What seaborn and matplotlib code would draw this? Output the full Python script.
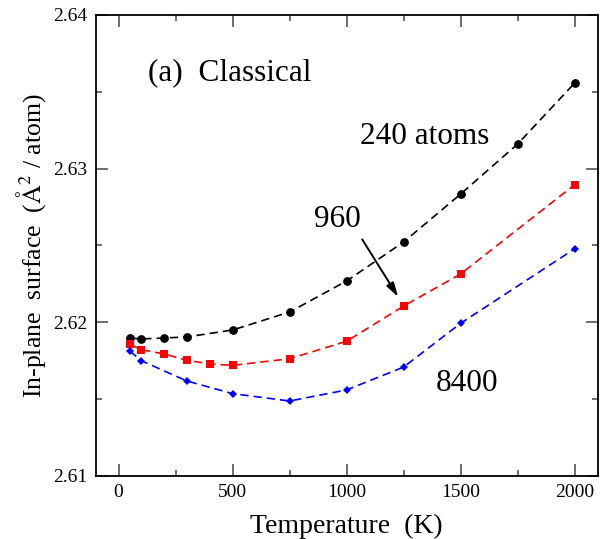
import numpy as np
import pandas as pd
import matplotlib
matplotlib.use("Agg")
import matplotlib.pyplot as plt
from matplotlib.ticker import MultipleLocator
import seaborn as sns

# Data
temp_240 = [50, 100, 200, 300, 500, 750, 1000, 1250, 1500, 1750, 2000]
surf_240 = [2.61898, 2.61892, 2.61898, 2.61905, 2.61950, 2.62067, 2.62269,
            2.62523, 2.62835, 2.63161, 2.63558]

temp_960 = [50, 100, 200, 300, 400, 500, 750, 1000, 1250, 1500, 2000]
surf_960 = [2.61857, 2.61822, 2.61794, 2.61753, 2.61729, 2.61720, 2.61763,
            2.61877, 2.62106, 2.62315, 2.62896]

temp_8400 = [50, 100, 300, 500, 750, 1000, 1250, 1500, 2000]
surf_8400 = [2.61813, 2.61750, 2.61618, 2.61536, 2.61488, 2.61560, 2.61709,
             2.61994, 2.62479]

sns.set_theme(style="ticks")
plt.rcParams['font.family'] = ['Liberation Serif', 'DejaVu Serif']
plt.rcParams['mathtext.fontset'] = 'stix'
plt.rcParams['text.color'] = 'black'
plt.rcParams['axes.labelcolor'] = 'black'
plt.rcParams['xtick.labelcolor'] = 'black'
plt.rcParams['ytick.labelcolor'] = 'black'

fig = plt.figure(figsize=(6.0, 5.39), dpi=100)
ax = fig.add_axes([0.1595, 0.1169, 0.8365, 0.8553])

series = [
    (temp_240, surf_240, 'black', 'o', 6.3),
    (temp_960, surf_960, 'red', 's', 5.5),
    (temp_8400, surf_8400, 'blue', 'D', 4.5),
]
for t, s, col, mk, ms in series:
    df = pd.DataFrame({'T': t, 'S': s})
    sns.lineplot(data=df, x='T', y='S', ax=ax, color=col, marker=mk,
                 markersize=ms, markeredgewidth=0, linestyle=(0, (5, 3)),
                 linewidth=1.2)

ax.set_xlim(-100, 2100)
ax.set_ylim(2.61, 2.64)
ax.xaxis.set_major_locator(MultipleLocator(500))
ax.xaxis.set_minor_locator(MultipleLocator(250))
ax.set_yticks([2.61, 2.62, 2.63, 2.64])
ax.set_yticklabels(['2.61', '2.62', '2.63', '2.64'])
ax.yaxis.set_minor_locator(MultipleLocator(0.005))

ax.tick_params(which='both', direction='in', top=True, right=True,
               labelsize=14, color='#555555', width=1.2, pad=6)
ax.tick_params(which='major', length=8.5)
ax.tick_params(which='minor', length=4.5)
for sp in ax.spines.values():
    sp.set_linewidth(1.3)
    sp.set_color('black')

ax.set_xlabel('Temperature  (K)', fontsize=20, labelpad=9)
ax.set_ylabel(r'In-plane  surface  ($\mathrm{\AA}^2$ / atom)', fontsize=18.5,
              labelpad=4)

ax.text(0.104, 0.874, '(a)  Classical', transform=ax.transAxes,
        fontsize=22.5, va='center')
ax.text(1341, 2.63206, '240 atoms', fontsize=22.5, ha='center', va='center')
ax.text(961, 2.62666, '960', fontsize=22.5, ha='center', va='center')
ax.text(1529, 2.61605, '8400', fontsize=22.5, ha='center', va='center')
ax.annotate('', xy=(1226, 2.62165), xytext=(1068, 2.62540),
            arrowprops=dict(arrowstyle='-|>,head_length=0.7,head_width=0.2',
                            color='black', lw=1.4, shrinkA=0, shrinkB=0))

fig.savefig('out.png', dpi=100)
